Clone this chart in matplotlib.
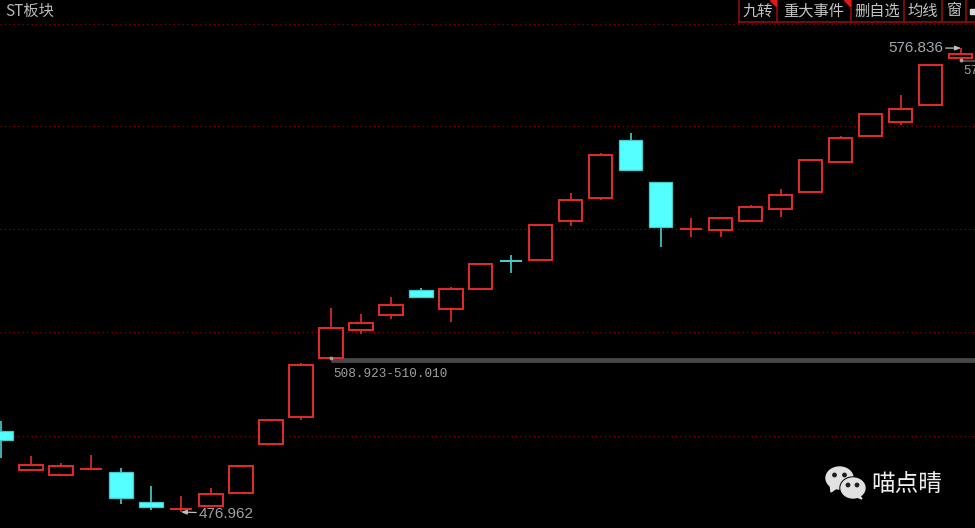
import matplotlib
matplotlib.use('Agg')
import matplotlib.pyplot as plt
from matplotlib.patches import Ellipse, Polygon, Rectangle

plt.rcParams['font.family'] = ['Noto Sans CJK SC', 'DejaVu Sans']

RED = '#e62a2a'
CYAN = '#54ffff'
GRID = '#a00000'
GREY = '#a0a0a0'

# candle values
opens = [494.40, 486.00, 484.92, 486.21, 485.57, 479.11, 477.60, 478.25, 481.05, 491.60, 497.41,
         510.11, 516.14, 519.37, 524.75, 520.66, 524.97, 531.05, 531.21, 539.61, 544.56,
         557.05, 548.01, 537.89, 537.67, 539.61, 542.19, 545.85, 552.31, 557.91, 560.92,
         564.58, 574.70]
closes = [492.46, 487.08, 486.86, 486.21, 479.97, 478.03, 477.60, 480.83, 486.86, 496.76, 508.61,
          516.57, 517.65, 521.52, 523.25, 524.97, 530.35, 531.00, 538.75, 544.13, 553.82,
          550.59, 538.32, 537.89, 540.25, 542.62, 545.21, 552.74, 557.48, 562.65, 563.72,
          573.20, 575.56]
highs = [496.55, 489.01, 487.51, 489.23, 486.43, 482.55, 480.40, 482.12, 486.86, 496.76, 509.04,
         520.88, 519.59, 523.25, 525.18, 525.40, 530.35, 532.29, 538.75, 545.64, 554.25,
         558.56, 548.01, 540.25, 540.25, 543.05, 546.50, 552.74, 557.91, 562.65, 566.74,
         573.20, 576.84]
lows = [488.58, 486.00, 484.92, 486.21, 478.68, 477.39, 476.96, 478.25, 481.05, 491.60, 496.76,
        510.11, 515.28, 518.51, 523.03, 517.86, 524.97, 528.41, 531.21, 538.53, 544.13,
        550.59, 534.01, 536.16, 536.16, 539.61, 540.47, 545.85, 552.31, 557.91, 560.28,
        564.58, 573.84]
grid_prices = [582.02, 560.06, 537.89, 515.71, 493.32]
buttons = ['九转', '重大事件', '删自选', '均线', '窗']
button_edges = [739, 777, 851, 904, 942, 966, 975]

fig = plt.figure(figsize=(9.75, 5.28), dpi=100, facecolor='black')
ax = fig.add_axes([0, 0, 1, 1], facecolor='black')
ax.set_xlim(-1 / 30, 32.47)
ax.set_ylim(473.51, 587.19)
ax.axis('off')

for p in grid_prices:
    ax.axhline(p, color=GRID, lw=0.8, linestyle=(0, (1, 3)), zorder=1)

for i in range(len(opens)):
    o, c, h, l = opens[i], closes[i], highs[i], lows[i]
    down = c < o
    wick = '#48d0d0' if down else RED
    ax.vlines(i, l, h, color=wick, lw=1.2, zorder=2)
    if abs(o - c) < 0.1:
        ax.hlines(o, i - 0.38, i + 0.38, color=wick, lw=1.4, zorder=3)
    elif down:
        ax.bar(i, o - c, bottom=c, width=0.77, color=CYAN, edgecolor='#44c8c8', lw=0.9, zorder=3)
    else:
        ax.bar(i, c - o, bottom=o, width=0.77, color='black', edgecolor=RED, lw=1.4, zorder=3)

# gap band from candle 11 and from the last candle
ax.hlines(509.6, 11, 33, color='#484848', lw=3.4, zorder=2)
ax.hlines(574.0, 32, 33, color='#484848', lw=1.5, zorder=4)
ax.plot([11, 32], [510.1, 574.3], ls='none', marker='o', ms=1.8, color='#a0a0a0', zorder=5)

ax.text(11.07, 506.6, '508.923-510.010', color=GREY, fontsize=9.1, va='center', ha='left',
        family=['Liberation Mono'], zorder=6)
ax.text(32.07, 571.8, '57', color=GREY, fontsize=9.1, va='center', ha='left',
        family=['Liberation Mono'], zorder=6)
ax.annotate('476.962', xy=(6, 476.96), xytext=(6.6, 476.6), color=GREY, fontsize=11, va='center',
            family=['Liberation Sans'], zorder=6,
            arrowprops=dict(arrowstyle='-|>,head_width=0.12,head_length=0.3', color='#c0c0c0', lw=0.9,
                            shrinkA=0, shrinkB=0))
ax.annotate('576.836', xy=(32, 576.84), xytext=(31.4, 576.84), color='#a0a8b0', fontsize=11, va='center',
            ha='right', family=['Liberation Sans'], zorder=6,
            arrowprops=dict(arrowstyle='-|>,head_width=0.12,head_length=0.3', color='#c0c0c0', lw=0.9,
                            shrinkA=0, shrinkB=0))

# chrome drawn in pixel coordinates
ov = fig.add_axes([0, 0, 1, 1], facecolor='none')
ov.set_xlim(0, 975)
ov.set_ylim(528, 0)
ov.axis('off')

ov.text(5, 11, 'ST板块', color='#b8b8b8', fontsize=11, va='center', ha='left')

ov.add_patch(Rectangle((739, -2), 240, 24, facecolor='black', edgecolor='none', zorder=7))
ov.plot([739, 975], [22, 22], color='#900c0c', lw=1.2, zorder=8)
for e in button_edges[:-1]:
    ov.plot([e, e], [0, 22], color='#900c0c', lw=1.2, zorder=8)
for j, name in enumerate(buttons):
    ov.text((button_edges[j] + button_edges[j + 1]) / 2, 11, name, color='#c4c4c4', fontsize=11,
            va='center', ha='center', zorder=9)
for e in button_edges[1:3]:
    ov.add_patch(Polygon([[e - 7, 0], [e - 1, 0], [e - 1, 6]], color='#e01818', zorder=9))
ov.add_patch(Rectangle((970, 9), 5, 5, color='#d8d8d8', zorder=9))

# watermark
logo = '#e2e2e2'
ov.add_patch(Polygon([[830, 483], [831, 492], [838, 487]], color=logo, zorder=7))
ov.add_patch(Ellipse((839.5, 478), 27, 22, color=logo, zorder=7))
ov.add_patch(Ellipse((853, 488), 26, 22, color='black', zorder=8))
ov.add_patch(Polygon([[858, 493], [862, 499], [854, 496]], color=logo, zorder=9))
ov.add_patch(Ellipse((853, 488), 24, 20, color=logo, zorder=9))
for dx, dy in [(834.5, 475), (844.5, 475), (848, 485), (857, 485)]:
    ov.add_patch(Ellipse((dx, dy), 3.4, 3.4, color='#202020', zorder=10))
ov.text(871, 484.5, '喵点晴', color='#eeeeee', fontsize=17, va='center', ha='left', zorder=10)

fig.savefig('out.png', dpi=100, facecolor='black')
